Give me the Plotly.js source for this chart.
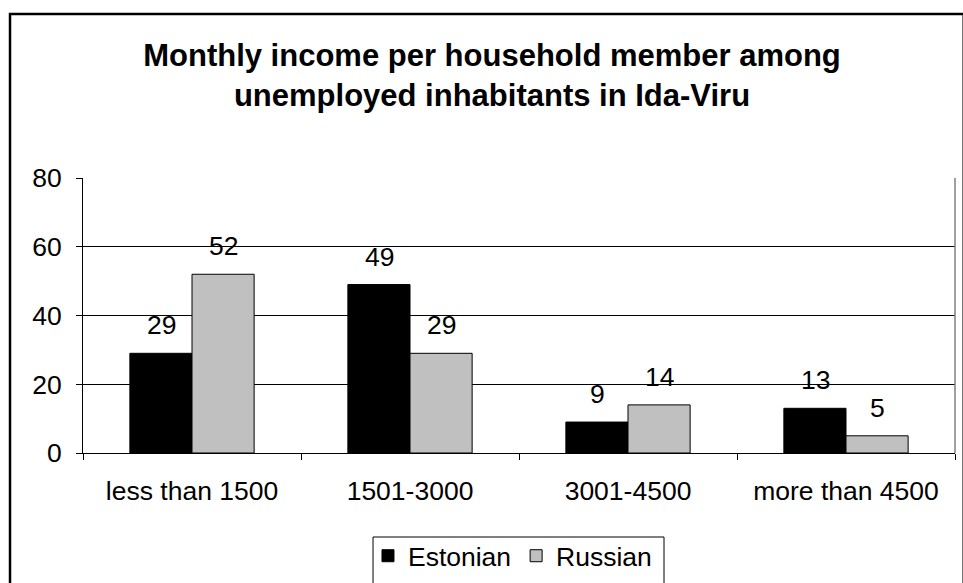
<!DOCTYPE html>
<html>
<head>
<meta charset="utf-8">
<script src="https://cdn.plot.ly/plotly-3.0.1.min.js"></script>
<style>
  html, body { margin: 0; padding: 0; background: #ffffff; }
  #chart { width: 963px; height: 583px; }
</style>
</head>
<body>
<div id="chart"></div>
<script>
const categories = ['less than 1500', '1501-3000', '3001-4500', 'more than 4500'];
const estonian = [29, 49, 9, 13];
const russian = [52, 29, 14, 5];
const seriesNames = ['Estonian', 'Russian'];
const titleLines = ['Monthly income per household member among', 'unemployed inhabitants in Ida-Viru'];
const yTicks = [0, 20, 40, 60, 80];

const FONT = 'Arial, "Liberation Sans", sans-serif';
const FS = 26.5;

const traces = [
  {
    type: 'bar', name: seriesNames[0], x: categories, y: estonian,
    marker: { color: '#000000', line: { color: '#000000', width: 1 } },
    hoverinfo: 'none'
  },
  {
    type: 'bar', name: seriesNames[1], x: categories, y: russian,
    marker: { color: '#c0c0c0', line: { color: '#000000', width: 1 } },
    hoverinfo: 'none'
  }
];

const annotations = [];
categories.forEach((c, i) => {
  annotations.push({ x: c, y: estonian[i], xref: 'x', yref: 'y', text: String(estonian[i]),
    showarrow: false, yanchor: 'bottom', xshift: -31, yshift: 11,
    font: { family: FONT, size: FS, color: '#000' } });
  annotations.push({ x: c, y: russian[i], xref: 'x', yref: 'y', text: String(russian[i]),
    showarrow: false, yanchor: 'bottom', xshift: 31, yshift: 11,
    font: { family: FONT, size: FS, color: '#000' } });
});

const layout = {
  width: 963, height: 583,
  margin: { l: 83, r: 8, t: 178, b: 130, pad: 0, autoexpand: false },
  paper_bgcolor: '#ffffff', plot_bgcolor: '#ffffff',
  font: { family: FONT, size: FS, color: '#000' },
  title: {
    text: titleLines.join('<br>'),
    font: { family: FONT, size: 31, color: '#000', weight: 'bold' },
    x: 492 / 963, xref: 'container', xanchor: 'center',
    y: 1 - 66 / 583, yref: 'container', yanchor: 'top'
  },
  barmode: 'group', bargap: 0.43, bargroupgap: 0,
  xaxis: {
    type: 'category', tickson: 'boundaries', ticks: 'outside', ticklen: 6,
    tickcolor: '#000', tickwidth: 1,
    showline: true, linecolor: '#000', linewidth: 1,
    showgrid: false, zeroline: false, automargin: false,
    ticklabelstandoff: 14,
    tickfont: { family: FONT, size: FS, color: '#000' }
  },
  yaxis: {
    range: [0, 80], tickvals: yTicks, ticks: 'outside', ticklen: 6,
    tickcolor: '#000', tickwidth: 1,
    showline: true, linecolor: '#000', linewidth: 1,
    showgrid: true, gridcolor: '#000', gridwidth: 1, zeroline: false, automargin: false,
    ticklabelstandoff: 9,
    tickfont: { family: FONT, size: FS, color: '#000' }
  },
  showlegend: true,
  legend: {
    orientation: 'h', x: 0.3268, xanchor: 'left', y: -0.2873, yanchor: 'top',
    bgcolor: 'rgba(0,0,0,0)', borderwidth: 0,
    font: { family: FONT, size: FS, color: '#000' },
    traceorder: 'normal'
  },
  annotations: annotations,
  shapes: [
    { type: 'line', xref: 'paper', yref: 'paper', x0: 1, x1: 1, y0: 0, y1: 1,
      line: { color: '#808080', width: 1.5 }, layer: 'above' },
    { type: 'rect', xref: 'paper', yref: 'paper', x0: 0.3326, x1: 0.6663, y0: -0.5345, y1: -0.3055,
      line: { color: '#000', width: 1 }, fillcolor: 'rgba(0,0,0,0)', layer: 'above' },
    { type: 'rect', xref: 'paper', yref: 'paper', x0: -0.0837, x1: 1.01, y0: -0.56, y1: 1.5964,
      line: { color: '#000', width: 2.5 }, fillcolor: 'rgba(0,0,0,0)', layer: 'above' }
  ]
};

Plotly.newPlot('chart', traces, layout, { displayModeBar: false, staticPlot: true });
</script>
</body>
</html>
